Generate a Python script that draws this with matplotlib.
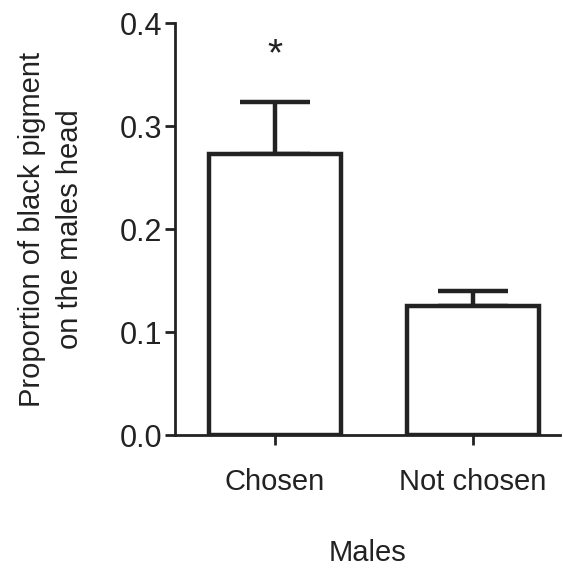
import numpy as np
import matplotlib
matplotlib.use('Agg')
import matplotlib.pyplot as plt

# data
groups = ['Chosen', 'Not chosen']
means = [0.273, 0.125]
sem = [0.051, 0.0145]
signif = ['*', '']

plt.rcParams['font.family'] = ['Liberation Sans', 'DejaVu Sans']
ink = '#222222'

fig = plt.figure(figsize=(5.63, 5.68), dpi=100)
ax = fig.add_axes([0.311, 0.234, 0.684, 0.725])

x = np.arange(len(groups))
ax.bar(x, means, width=0.67, color='white', edgecolor=ink, linewidth=3.2, zorder=2)
ax.errorbar(x, means, yerr=[np.zeros(len(sem)), sem], fmt='none', ecolor=ink,
            elinewidth=3.2, capsize=25, capthick=3.2, zorder=1)

for xi, m, s, lab in zip(x, means, sem, signif):
    if lab:
        ax.text(xi, m + s + 0.045, lab, ha='center', va='center', fontsize=28, color=ink)

ax.set_xlim(-0.505, 1.44)
ax.set_ylim(0, 0.4)
ax.set_yticks([0.0, 0.1, 0.2, 0.3, 0.4])
ax.set_yticklabels(['0.0', '0.1', '0.2', '0.3', '0.4'])
ax.set_xticks(x)
ax.set_xticklabels(groups)

for side in ['top', 'right']:
    ax.spines[side].set_visible(False)
for side in ['left', 'bottom']:
    ax.spines[side].set_linewidth(2.0)
    ax.spines[side].set_color(ink)

ax.tick_params(axis='y', length=7, width=2.0, pad=2, labelsize=22, colors=ink)
ax.tick_params(axis='x', length=7, width=2.0, pad=17, labelsize=21, colors=ink)

ax.set_ylabel('Proportion of black pigment\non the males head', fontsize=21,
              color=ink, labelpad=26, linespacing=1.45)
ax.set_xlabel('Males', fontsize=21, color=ink, labelpad=31)

fig.savefig('out.png', dpi=100)
